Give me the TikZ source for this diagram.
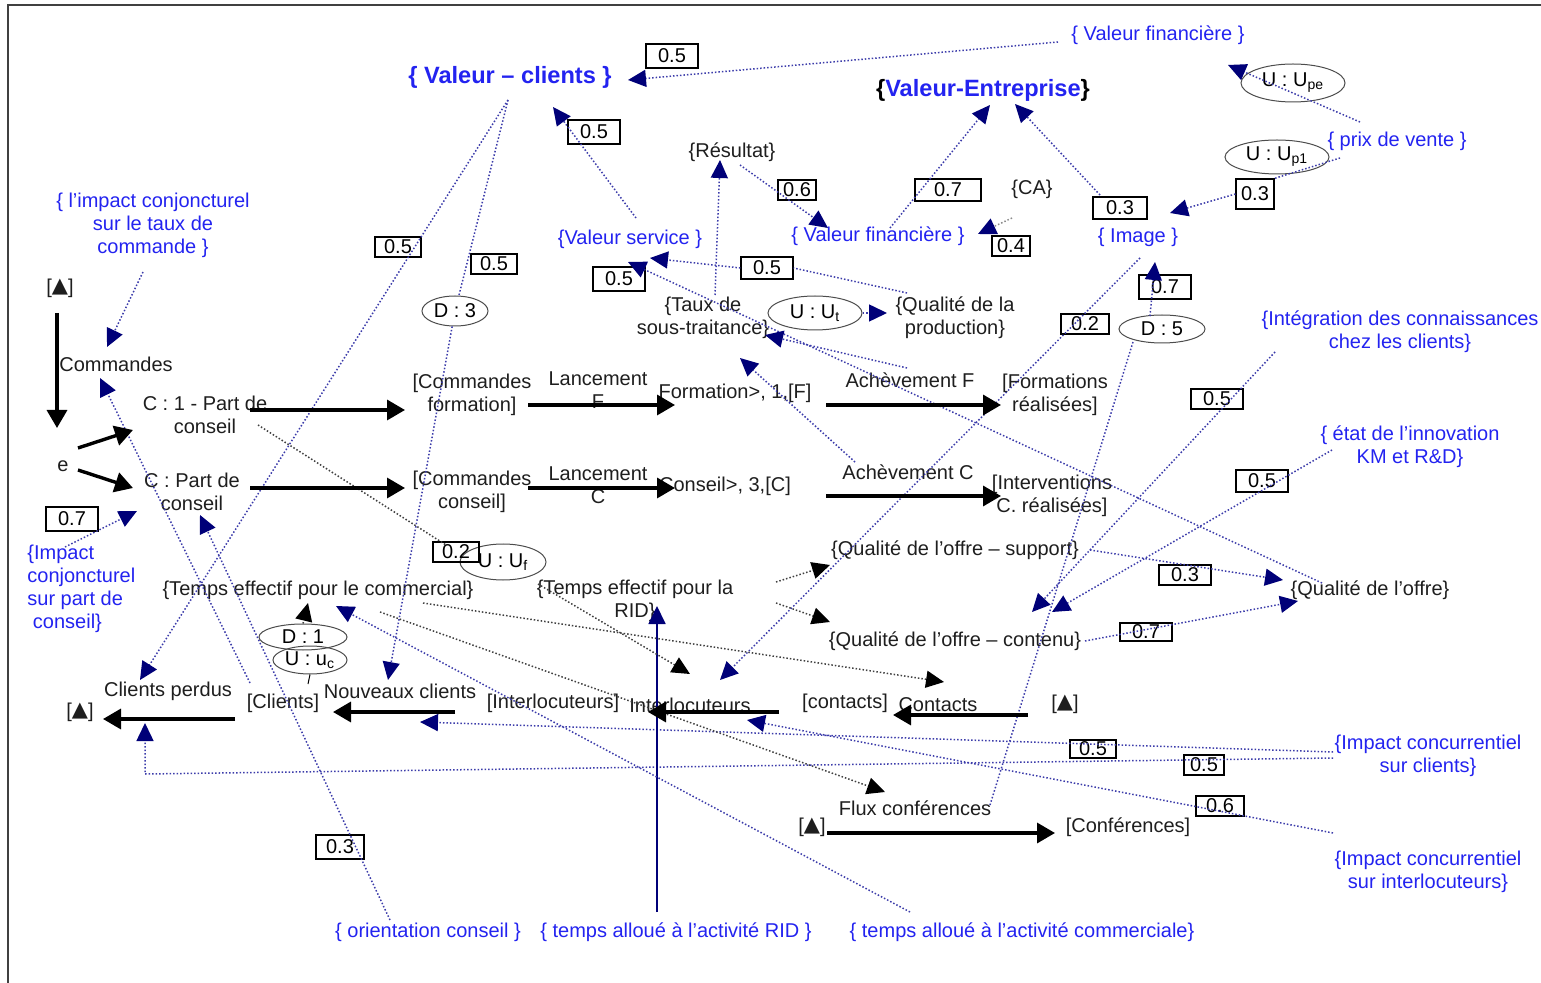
\documentclass[tikz,border=0pt]{standalone}
\usepackage{fontspec}
\setmainfont{Liberation Sans}
\newfontfamily\symf{DejaVu Sans}
\usetikzlibrary{arrows.meta,shapes.geometric}
\definecolor{cblue}{RGB}{35,35,240}
\definecolor{lblue}{RGB}{60,60,170}
\definecolor{anavy}{RGB}{0,0,120}
\definecolor{tgray}{RGB}{30,30,30}
\newcommand{\tribox}{[\raisebox{0.3pt}{\symf\fontsize{10.5}{10}\selectfont ▲}]}
\begin{document}
\begin{tikzpicture}[x=0.5pt,y=-0.5pt,
  T/.style={font=\fontsize{10}{11.5}\selectfont, inner sep=0pt, align=center, text=tgray},
  B/.style={T, text=cblue},
  BIG/.style={font=\fontsize{11.8}{14}\selectfont\bfseries, inner sep=0pt, text=cblue},
  num/.style={draw=black, line width=0.6pt, inner sep=0pt, font=\fontsize{10}{11}\selectfont},
  ell/.style={ellipse, draw=black!70, line width=0.5pt, inner sep=0pt, font=\fontsize{10}{11}\selectfont},
  flow/.style={line width=1.7pt, -{Triangle[length=9pt,width=10pt]}},
  inf/.style={draw=lblue, densely dotted, line width=0.75pt, -{Triangle[length=9pt,width=8.5pt,color=anavy,fill=anavy]}},
  infn/.style={draw=lblue, densely dotted, line width=0.75pt},
  blk/.style={draw=black!75, densely dotted, line width=0.75pt, -{Triangle[length=9pt,width=8.5pt,color=black,fill=black]}},
  blkn/.style={draw=black!75, densely dotted, line width=0.75pt}
]
\useasboundingbox (0,0) rectangle (1541,983);
\draw[line width=1pt, black!75] (8,983) -- (8,5) -- (1541,5);

% ---------- blue texts
\node[BIG] (vc) at (510,77) {\{ Valeur – clients \}};
\node[BIG] (ve) at (983,90) {\textcolor{black}{\{}Valeur-Entreprise\textcolor{black}{\}}};
\node[B] (vft) at (1158,35) {\{ Valeur financière \}};
\node[B] (pv) at (1397,141) {\{ prix de vente \}};
\node[B] (ict) at (153,225) {\{ l’impact conjoncturel\\sur le taux de\\commande \}};
\node[B] (vs) at (630,239) {\{Valeur service \}};
\node[B] (vfm) at (878,236) {\{ Valeur financière \}};
\node[B] (img) at (1138,237) {\{ Image \}};
\node[B] (intg) at (1400,332) {\{Intégration des connaissances\\chez les clients\}};
\node[B] (etat) at (1410,447) {\{ état de l’innovation\\KM et R\&D\}};
\node[B, align=left, anchor=west] (icp) at (27,589) {\{Impact\\conjoncturel\\sur part de\\\ conseil\}};
\node[B] (icc) at (1428,756) {\{Impact concurrentiel\\sur clients\}};
\node[B] (ici) at (1428,872) {\{Impact concurrentiel\\sur interlocuteurs\}};
\node[B] (oc) at (428,932) {\{ orientation conseil \}};
\node[B] (tar) at (676,932) {\{ temps alloué à l’activité RID \}};
\node[B] (tac) at (1022,932) {\{ temps alloué à l’activité commerciale\}};

% ---------- black texts
\node[T] (res) at (732,152) {\{Résultat\}};
\node[T] (ca) at (1032,189) {\{CA\}};
\node[T] (tst) at (703,318) {\{Taux de\\sous-traitance\}};
\node[T] (qp) at (955,318) {\{Qualité de la\\production\}};
\node[T] (tr1) at (60,288) {\tribox};
\node[T] (cmd) at (116,364) {Commandes};
\node[T] (c1) at (205,415) {C : 1 - Part de\\conseil};
\node[T] (e) at (63,466) {e};
\node[T] (c0) at (192,492) {C : Part de\\conseil};
\node[T] (cf) at (472,395) {[Commandes\\formation]};
\node[T] (lf) at (598,390) {Lancement\\F};
\node[T] (fo) at (735,393) {Formation>, 1,[F]};
\node[T] (af) at (910,380) {Achèvement F};
\node[T] (fr) at (1055,395) {[Formations\\réalisées]};
\node[T] (cc) at (472,492) {[Commandes\\conseil]};
\node[T] (lc) at (598,485) {Lancement\\C};
\node[T] (co) at (725,486) {Conseil>, 3,[C]};
\node[T] (ac) at (908,472) {Achèvement C};
\node[T] (icr) at (1052,496) {[Interventions\\C. réalisées]};
\node[T] (qs) at (955,550) {\{Qualité de l’offre – support\}};
\node[T] (tec) at (318,590) {\{Temps effectif pour le commercial\}};
\node[T] (ter) at (635,601) {\{Temps effectif pour la\\RID\}};
\node[T] (qc) at (955,641) {\{Qualité de l’offre – contenu\}};
\node[T] (qo) at (1370,590) {\{Qualité de l’offre\}};
\node[T] (cp) at (168,691) {Clients perdus};
\node[T] (tr2) at (80,712) {\tribox};
\node[T] (cl) at (283,703) {[Clients]};
\node[T] (nc) at (400,691) {Nouveaux clients};
\node[T] (itl) at (553,703) {[Interlocuteurs]};
\node[T] (it) at (690,705) {Interlocuteurs};
\node[T] (ct) at (845,703) {[contacts]};
\node[T] (cn) at (938,705) {Contacts};
\node[T] (tr3) at (1065,704) {\tribox};
\node[T] (fc) at (915,808) {Flux conférences};
\node[T] (tr4) at (812,827) {\tribox};
\node[T] (conf) at (1128,827) {[Conférences]};

% ---------- ellipses
\node[ell, minimum width=33pt, minimum height=15pt] (e3) at (455,311) {D : 3};
\node[ell, minimum width=47pt, minimum height=17pt] (eut) at (815,313) {U : U\textsubscript{t}};
\node[ell, minimum width=43pt, minimum height=14pt] (e5) at (1162,329) {D : 5};
\node[ell, minimum width=52pt, minimum height=19pt] (eupe) at (1293,83) {U : U\textsubscript{pe}};
\node[ell, minimum width=52pt, minimum height=17pt] (eup1) at (1277,157) {U : U\textsubscript{p1}};
\node[ell, minimum width=43pt, minimum height=18pt] (euf) at (503,562) {U : U\textsubscript{f}};
\node[ell, minimum width=44pt, minimum height=13pt] (ed1) at (303,637) {D : 1};
\node[ell, minimum width=37pt, minimum height=14pt] (euc) at (310,660) {U : u\textsubscript{c}};

% ---------- number boxes
\node[num, minimum width=26pt, minimum height=12pt] (b1) at (672,56) {0.5};
\node[num, minimum width=26pt, minimum height=12pt] (b2) at (594,132) {0.5};
\node[num, minimum width=19pt, minimum height=10pt] (b3) at (797,190) {0.6};
\node[num, minimum width=33pt, minimum height=11pt] (b4) at (948,190) {0.7};
\node[num, minimum width=27pt, minimum height=11pt] (b5) at (1120,208) {0.3};
\node[num, minimum width=19pt, minimum height=10pt] (b6) at (1011,246) {0.4};
\node[num, minimum width=19pt, minimum height=15pt] (b7) at (1255,194) {0.3};
\node[num, minimum width=23pt, minimum height=10pt] (b8) at (398,247) {0.5};
\node[num, minimum width=23pt, minimum height=10pt] (b9) at (494,264) {0.5};
\node[num, minimum width=26pt, minimum height=11pt] (b10) at (767,268) {0.5};
\node[num, minimum width=26pt, minimum height=12pt] (b11) at (619,279) {0.5};
\node[num, minimum width=26pt, minimum height=12pt] (b12) at (1165,287) {0.7};
\node[num, minimum width=24pt, minimum height=10pt] (b13) at (1085,324) {0.2};
\node[num, minimum width=26pt, minimum height=10pt] (b14) at (1217,399) {0.5};
\node[num, minimum width=26pt, minimum height=11pt] (b15) at (1262,481) {0.5};
\node[num, minimum width=26pt, minimum height=12pt] (b16) at (72,519) {0.7};
\node[num, minimum width=23pt, minimum height=10pt] (b17) at (456,552) {0.2};
\node[num, minimum width=26pt, minimum height=10pt] (b18) at (1185,575) {0.3};
\node[num, minimum width=26pt, minimum height=9pt] (b19) at (1146,632) {0.7};
\node[num, minimum width=23pt, minimum height=9pt] (b20) at (1093,749) {0.5};
\node[num, minimum width=20pt, minimum height=10pt] (b21) at (1204,765) {0.5};
\node[num, minimum width=24pt, minimum height=10pt] (b22) at (1220,806) {0.6};
\node[num, minimum width=24pt, minimum height=12pt] (b23) at (340,847) {0.3};

% ---------- connector end points
\coordinate (a1s) at (1058,42);  \coordinate (a1e) at (628,80);
\coordinate (a2s) at (636,218);  \coordinate (a2e) at (553,107);
\coordinate (a3s) at (508,100);  \coordinate (a3e) at (140,680);
\coordinate (a4e) at (388,680);
\coordinate (a5s) at (740,165);  \coordinate (a5e) at (828,228);
\coordinate (a6s) at (715,295);  \coordinate (a6e) at (720,160);
\coordinate (a7s) at (890,228);  \coordinate (a7e) at (990,105);
\coordinate (a8s) at (1012,218); \coordinate (a8e) at (978,234);
\coordinate (a9s) at (1100,195); \coordinate (a9e) at (1015,104);
\coordinate (a10s) at (1360,122); \coordinate (a10e) at (1228,65);
\coordinate (a11s) at (1340,158); \coordinate (a11e) at (1170,213);
\coordinate (a12s) at (907,293); \coordinate (a12e) at (650,258);
\coordinate (a13s) at (1322,583); \coordinate (a13e) at (628,262);
\coordinate (a14e) at (887,313);
\coordinate (a15s) at (907,368); \coordinate (a15e) at (765,335);
\coordinate (a16s) at (855,462); \coordinate (a16e) at (740,358);
\coordinate (a17s) at (1140,258); \coordinate (a17e) at (720,680);
\coordinate (a18s) at (990,805); \coordinate (a18m) at (1133,342);
\coordinate (a18n) at (1150,316); \coordinate (a18e) at (1155,262);
\coordinate (a19s) at (1275,352); \coordinate (a19e) at (1032,612);
\coordinate (a20s) at (1332,450); \coordinate (a20e) at (1052,612);
\coordinate (a21s) at (1090,550); \coordinate (a21e) at (1283,580);
\coordinate (a22s) at (1085,641); \coordinate (a22e) at (1298,601);
\coordinate (a23s) at (1333,752); \coordinate (a23e) at (420,722);
\coordinate (a24s) at (1333,758); \coordinate (a24m) at (145,774); \coordinate (a24e) at (145,723);
\coordinate (a25s) at (1333,833); \coordinate (a25e) at (747,720);
\coordinate (a26s) at (390,920); \coordinate (a26e) at (200,515);
\coordinate (a27s) at (250,683); \coordinate (a27e) at (100,378);
\coordinate (a28s) at (143,272); \coordinate (a28e) at (107,347);
\coordinate (a29s) at (65,547);  \coordinate (a29e) at (137,511);
\coordinate (a30s) at (657,912); \coordinate (a30e) at (657,606);
\coordinate (a31s) at (910,912); \coordinate (a31e) at (336,606);
\coordinate (k1s) at (776,582); \coordinate (k1e) at (830,565);
\coordinate (k2s) at (776,603); \coordinate (k2e) at (830,622);
\coordinate (k3s) at (258,425); \coordinate (k3m) at (446,545);
\coordinate (k3n) at (538,584); \coordinate (k3e) at (690,674);
\coordinate (k4s) at (423,603); \coordinate (k4e) at (944,682);
\coordinate (k5s) at (380,612); \coordinate (k5e) at (885,792);
\coordinate (k6e) at (308,603);
\coordinate (k7e) at (308,684);

% ---------- blue influence links
\draw[inf] (a1s) -- (a1e);
\draw[inf] (a2s) -- (a2e);
\draw[inf] (a3s) -- (a3e);
\draw[infn] (a3s) -- (e3);
\draw[inf] (e3) -- (a4e);
\draw[inf] (a5s) -- (a5e);
\draw[inf] (a6s) -- (a6e);
\draw[inf] (a7s) -- (a7e);
\draw[inf, draw=black!45] (a8s) -- (a8e);
\draw[inf] (a9s) -- (a9e);
\draw[inf] (a10s) -- (a10e);
\draw[infn] (a11s) -- (b7.north east);
\draw[inf] (b7.west) -- (a11e);
\draw[infn] (a12s) -- (b10.east);
\draw[inf] (b10.west) -- (a12e);
\draw[inf] (a13s) -- (a13e);
\draw[inf] (eut) -- (a14e);
\draw[inf] (a15s) -- (a15e);
\draw[inf] (a16s) -- (a16e);
\draw[inf] (a17s) -- (a17e);
\draw[infn] (a18s) -- (a18m);
\draw[inf] (a18n) -- (a18e);
\draw[inf] (a19s) -- (a19e);
\draw[inf] (a20s) -- (a20e);
\draw[inf] (a21s) -- (a21e);
\draw[inf] (a22s) -- (a22e);
\draw[inf] (a23s) -- (a23e);
\draw[inf] (a24s) -- (a24m) -- (a24e);
\draw[inf] (a25s) -- (a25e);
\draw[inf] (a26s) -- (a26e);
\draw[inf] (a27s) -- (a27e);
\draw[inf] (a28s) -- (a28e);
\draw[inf] (a29s) -- (a29e);
\draw[draw=anavy, line width=0.9pt, -{Triangle[length=9pt,width=8.5pt,color=anavy,fill=anavy]}] (a30s) -- (a30e);
\draw[inf] (a31s) -- (a31e);

% ---------- black dotted links
\draw[blk] (k1s) -- (k1e);
\draw[blk] (k2s) -- (k2e);
\draw[blkn] (k3s) -- (k3m);
\draw[blk] (k3n) -- (k3e);
\draw[blk] (k4s) -- (k4e);
\draw[blk] (k5s) -- (k5e);
\draw[blk] (ed1.north) -- (k6e);
\draw[black, line width=0.5pt] (euc.south) -- (k7e);

% ---------- flows
\coordinate (f1s) at (57,313);  \coordinate (f1e) at (57,428);
\coordinate (f2s) at (78,448);  \coordinate (f2e) at (133,430);
\coordinate (f3s) at (78,470);  \coordinate (f3e) at (133,488);
\coordinate (f4s) at (250,410); \coordinate (f4e) at (405,410);
\coordinate (f5s) at (250,488); \coordinate (f5e) at (405,488);
\coordinate (f6s) at (528,405); \coordinate (f6e) at (675,405);
\coordinate (f7s) at (528,488); \coordinate (f7e) at (675,488);
\coordinate (f8s) at (826,405); \coordinate (f8e) at (1001,405);
\coordinate (f9s) at (826,496); \coordinate (f9e) at (1001,496);
\coordinate (f10s) at (235,719); \coordinate (f10e) at (103,719);
\coordinate (f11s) at (455,712); \coordinate (f11e) at (333,712);
\coordinate (f12s) at (779,712); \coordinate (f12e) at (648,712);
\coordinate (f13s) at (1028,715); \coordinate (f13e) at (893,715);
\coordinate (f14s) at (827,833); \coordinate (f14e) at (1055,833);
\foreach \i in {1,...,14} {\draw[flow] (f\i s) -- (f\i e);}
\end{tikzpicture}
\end{document}
